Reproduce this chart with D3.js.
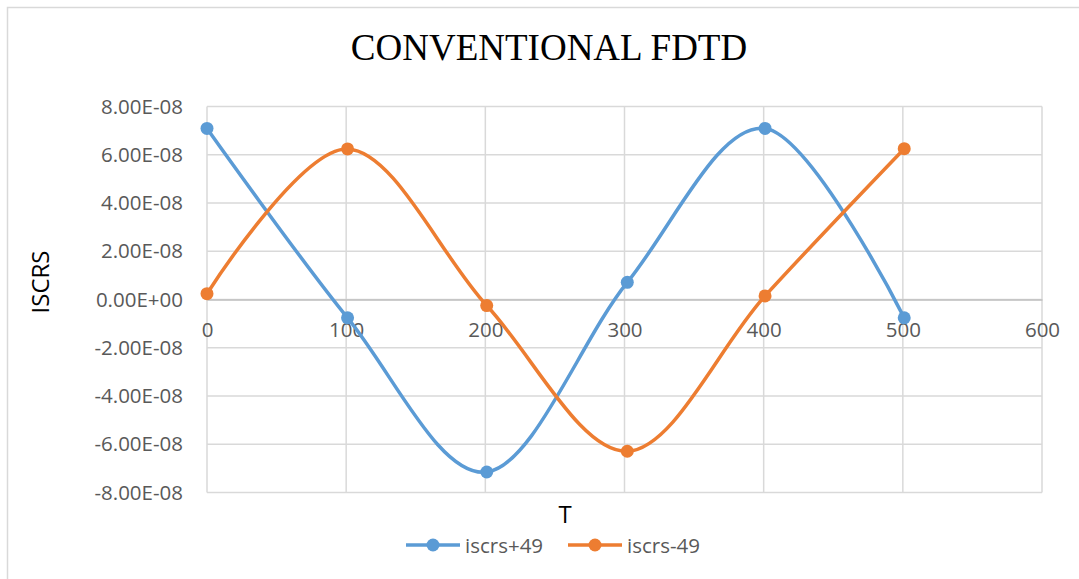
<!DOCTYPE html>
<html><head><meta charset="utf-8">
<script src="https://cdn.jsdelivr.net/npm/d3@7"></script>
<style>body{margin:0;background:#fff}svg{display:block}</style>
</head><body>
<svg id="c" width="1079" height="579"></svg>
<script>
const tValues = [0, 101, 201, 302, 401, 501];
const seriesNames = ["iscrs+49", "iscrs-49"];
const seriesPlus = [7.09e-8, -7.6e-9, -7.15e-8, 7.1e-9, 7.09e-8, -7.6e-9];
const seriesMinus = [2.4e-9, 6.24e-8, -2.5e-9, -6.29e-8, 1.5e-9, 6.25e-8];
const seriesColors = ["#5b9bd5", "#ed7d31"];
const xTicks = [0, 100, 200, 300, 400, 500, 600];
const yTicks = [-8e-8, -6e-8, -4e-8, -2e-8, 0, 2e-8, 4e-8, 6e-8, 8e-8];
const yTickLabels = ["-8.00E-08","-6.00E-08","-4.00E-08","-2.00E-08","0.00E+00","2.00E-08","4.00E-08","6.00E-08","8.00E-08"];

const svg = d3.select("#c");
svg.append("rect").attr("x",7.5).attr("y",7.5).attr("width",1100).attr("height",600)
  .attr("fill","#fff").attr("stroke","#d9d9d9").attr("stroke-width",1.5);

const L=207, R=1042, T=106.5, B=492.5;
const x = d3.scaleLinear().domain([0,600]).range([L,R]);
const y = d3.scaleLinear().domain([-8e-8,8e-8]).range([B,T]);

const grid = svg.append("g");
grid.selectAll("line.h").data(yTicks).join("line")
  .attr("x1",L).attr("x2",R).attr("y1",d=>y(d)).attr("y2",d=>y(d))
  .attr("stroke","#d9d9d9").attr("stroke-width",1.5);
grid.selectAll("line.v").data(xTicks).join("line")
  .attr("y1",T).attr("y2",B).attr("x1",d=>x(d)).attr("x2",d=>x(d))
  .attr("stroke","#d9d9d9").attr("stroke-width",1.5);

const xAxis = d3.axisBottom(x).tickValues(xTicks).tickSize(0).tickPadding(23).tickFormat(d3.format("d"));
const gx = svg.append("g").attr("transform",`translate(0,${y(0)})`).call(xAxis);
gx.select(".domain").attr("stroke","#bfbfbf").attr("stroke-width",1.5);
gx.selectAll("text").attr("font-family","Open Sans, sans-serif").attr("font-size",20.5).attr("fill","#595959");

const yAxis = d3.axisLeft(y).tickValues(yTicks).tickSize(0).tickPadding(24)
  .tickFormat((d,i)=>yTickLabels[i]);
const gy = svg.append("g").attr("transform",`translate(${L},0)`).call(yAxis);
gy.select(".domain").remove();
gy.selectAll("text").attr("font-family","Open Sans, sans-serif").attr("font-size",20.5).attr("fill","#595959");

const line = d3.line().x((d,i)=>x(tValues[i])).y(d=>y(d)).curve(d3.curveCardinal.tension(0));
[seriesPlus, seriesMinus].forEach((s,k)=>{
  svg.append("path").datum(s).attr("d",line).attr("fill","none")
    .attr("stroke",seriesColors[k]).attr("stroke-width",3.5).attr("stroke-linecap","round");
  svg.append("g").selectAll("circle").data(s).join("circle")
    .attr("cx",(d,i)=>x(tValues[i])).attr("cy",d=>y(d)).attr("r",6.5).attr("fill",seriesColors[k]);
});

svg.append("text").attr("x",549).attr("y",59.5).attr("text-anchor","middle")
  .attr("font-family","Liberation Serif, serif").attr("font-size",37).attr("fill","#000")
  .text("CONVENTIONAL FDTD");
svg.append("text").attr("x",565).attr("y",523).attr("text-anchor","middle")
  .attr("font-family","Open Sans, sans-serif").attr("font-size",24).attr("fill","#000").text("T");
svg.append("text").attr("transform","translate(49,282) rotate(-90)").attr("text-anchor","middle")
  .attr("font-family","Open Sans, sans-serif").attr("font-size",24).attr("fill","#000").text("ISCRS");

const lg = svg.append("g");
const legX = [406, 568];
seriesNames.forEach((n,k)=>{
  const g = lg.append("g").attr("transform",`translate(${legX[k]},545)`);
  g.append("line").attr("x1",0).attr("x2",54).attr("y1",0).attr("y2",0).attr("stroke",seriesColors[k]).attr("stroke-width",3.5);
  g.append("circle").attr("cx",27).attr("cy",0).attr("r",6.5).attr("fill",seriesColors[k]);
  g.append("text").attr("x",59).attr("y",7.5).attr("font-family","Open Sans, sans-serif").attr("font-size",20.5)
    .attr("fill","#595959").text(n);
});
</script>
</body></html>
